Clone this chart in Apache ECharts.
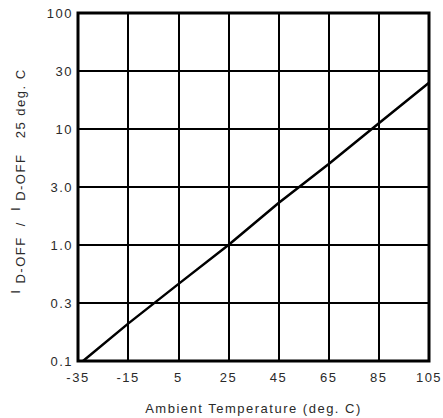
<!DOCTYPE html>
<html><head><meta charset="utf-8">
<script src="https://cdn.jsdelivr.net/npm/echarts@6/dist/echarts.min.js"></script>
<style>html,body{margin:0;padding:0;background:#fff}#c{width:443px;height:418px}#c text{letter-spacing:1.5px}</style>
</head><body><div id="c"></div>
<script>
var temps = [-33, -15, 5, 25, 45, 65, 85, 105];
var ratios = [0.1, 0.21, 0.46, 1.0, 2.3, 5.0, 11.2, 25];
var xTicks = [-35, -15, 5, 25, 45, 65, 85, 105];
var yTickLabels = ['0.1', '0.3', '1.0', '3.0', '10', '30', '100'];

var mctx = document.createElement('canvas').getContext('2d');
mctx.letterSpacing = '1.5px';
if (echarts.setPlatformAPI) {
  echarts.setPlatformAPI({
    measureText: function (text, f) {
      mctx.font = f || '12px sans-serif';
      mctx.letterSpacing = '1.5px';
      return mctx.measureText(text);
    }
  });
}

var chart = echarts.init(document.getElementById('c'), null, {renderer: 'svg'});
var font = '"Liberation Sans", Arial, sans-serif';
var col = '#2a2a2a';
chart.setOption({
  animation: false,
  grid: {left: 78, right: 14, top: 13, bottom: 57, show: true, borderColor: '#000', borderWidth: 3,
    outerBoundsMode: 'none', containLabel: false},
  xAxis: {
    type: 'value', min: -35, max: 105,
    name: 'Ambient Temperature (deg. C)', nameLocation: 'middle', nameGap: 40,
    nameTextStyle: {fontFamily: font, fontSize: 13, color: col},
    axisLine: {show: false},
    axisTick: {show: false, customValues: xTicks},
    axisLabel: {customValues: xTicks, fontFamily: font, fontSize: 13, color: col, margin: 9},
    splitLine: {show: true, lineStyle: {color: '#000', width: 2}}
  },
  yAxis: {
    type: 'log', logBase: Math.sqrt(10), min: 0.1, max: 100, splitNumber: 6,
    name: '{i|I}{s| D-OFF  /  }{i|I}{s| D-OFF   25 deg. C}', nameLocation: 'middle', nameGap: 50, nameRotate: 90,
    nameTextStyle: {fontFamily: font, fontSize: 13, color: col, padding: [0, 0, 0, 12],
      rich: {
        i: {fontFamily: font, fontSize: 12, color: col, verticalAlign: 'top', lineHeight: 19},
        s: {fontFamily: font, fontSize: 13, color: col, verticalAlign: 'bottom', lineHeight: 19}
      }},
    axisLine: {show: false},
    axisTick: {show: false},
    axisLabel: {fontFamily: font, fontSize: 13, color: col, margin: 5,
      formatter: function (v) { return yTickLabels[Math.round(2 * Math.log10(v)) + 2]; }},
    splitLine: {show: true, lineStyle: {color: '#000', width: 2}}
  },
  series: [{
    type: 'line', data: temps.map(function (t, i) { return [t, ratios[i]]; }),
    showSymbol: false, lineStyle: {color: '#000', width: 2.5}
  }]
});
</script></body></html>
